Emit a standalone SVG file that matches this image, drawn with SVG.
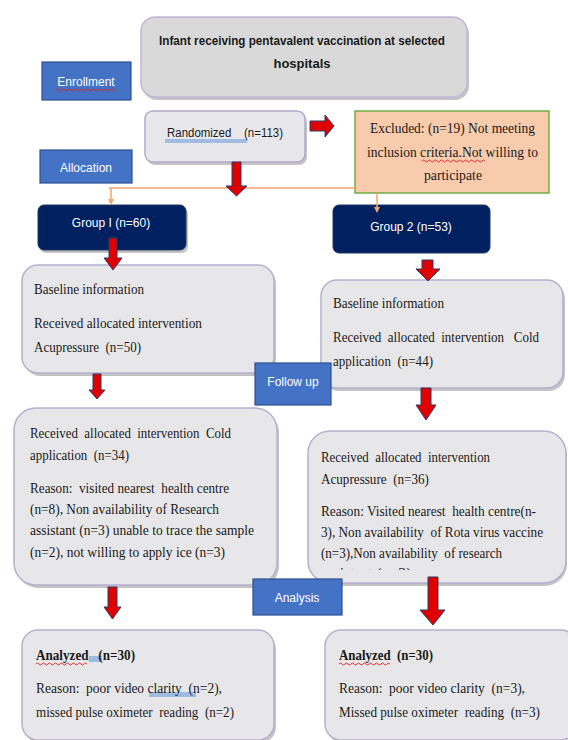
<svg xmlns="http://www.w3.org/2000/svg" width="568" height="740" viewBox="0 0 568 740">
<style>
.cal{font-family:"Liberation Sans","DejaVu Sans",sans-serif;}
.tms{font-family:"Liberation Serif","DejaVu Serif",serif;font-size:14.5px;fill:#1a1a1a;}
.lbl{fill:#4472c4;stroke:#2f4f8f;stroke-width:1.2;}
.lblt{font-family:"Liberation Sans","DejaVu Sans",sans-serif;font-size:12px;fill:#ffffff;text-anchor:middle;}
.grp{fill:#002060;stroke:#1f3864;stroke-width:1;}
.grpt{font-family:"Liberation Sans","DejaVu Sans",sans-serif;font-size:12px;fill:#ffffff;text-anchor:middle;}
.box{fill:#e7e7e9;stroke:#b8aed0;stroke-width:1.5;}
.shd{fill:#c4c4c4;}
.arr{fill:#e00000;stroke:#2a3a6a;stroke-width:1;}
.org{stroke:#f4a46a;stroke-width:1.5;fill:none;}
.sq{stroke:#e02020;stroke-width:0.9;fill:none;}
.hl{fill:#8fb0e0;opacity:0.8;}
</style>
<defs>
<clipPath id="cr"><rect x="308" y="432" width="260" height="138"/></clipPath>
</defs>

<g id="enrollment-label">
<rect class="lbl" x="42" y="62" width="89" height="38"/>
<text class="lblt" x="86" y="86">Enrollment</text>
<path class="sq" d="M56,90 q1.5,-2 3,0 t3,0 t3,0 t3,0 t3,0 t3,0 t3,0 t3,0 t3,0 t3,0 t3,0 t3,0 t3,0 t3,0 t3,0 t3,0 t3,0 t3,0 t3,0 t3,0"/>
</g>

<g id="infant">
<rect class="shd" x="143" y="20" width="326" height="80" rx="14"/>
<rect x="141" y="17" width="326" height="80" rx="14" fill="#d9d9d9" stroke="#c2b8d8" stroke-width="1.5"/>
<text class="cal" x="159" y="45" font-size="13" font-weight="bold" fill="#1a1a1a" textLength="286" lengthAdjust="spacingAndGlyphs">Infant receiving pentavalent vaccination at selected</text>
<text class="cal" x="302" y="68" font-size="13" font-weight="bold" fill="#1a1a1a" text-anchor="middle">hospitals</text>
</g>

<g id="randomized">
<rect class="shd" x="147" y="114" width="160" height="51" rx="8"/>
<rect x="145" y="111" width="160" height="51" rx="8" fill="#e8e8ec" stroke="#b4a8cc" stroke-width="1.5"/>
<rect class="hl" x="165" y="139" width="82" height="4"/>
<text class="cal" x="167" y="137" font-size="12.5" fill="#1a1a1a" textLength="116" lengthAdjust="spacingAndGlyphs" xml:space="preserve">Randomized    (n=113)</text>
</g>

<g id="excluded">
<rect x="355" y="111" width="194" height="82" fill="#f8cbad" stroke="#70ad47" stroke-width="1.5"/>
<text class="tms" x="370" y="133" textLength="165" lengthAdjust="spacingAndGlyphs">Excluded: (n=19) Not meeting</text>
<text class="tms" x="367" y="157" textLength="171" lengthAdjust="spacingAndGlyphs">inclusion criteria.Not willing to</text>
<text class="tms" x="453" y="180" text-anchor="middle" textLength="58" lengthAdjust="spacingAndGlyphs">participate</text>
<path class="sq" d="M422,161 q1.5,-2 3,0 t3,0 t3,0 t3,0 t3,0 t3,0 t3,0 t3,0 t3,0 t3,0 t3,0 t3,0 t3,0 t3,0 t3,0 t3,0 t3,0 t3,0 t3,0 t3,0 t3,0"/>
</g>

<g id="allocation-label">
<rect class="lbl" x="40" y="150" width="92" height="33"/>
<text class="lblt" x="86" y="172">Allocation</text>
</g>

<g id="group1">
<rect class="shd" x="40" y="208" width="148" height="45" rx="6"/>
<rect class="grp" x="38" y="205" width="148" height="45" rx="6"/>
<text class="grpt" x="111" y="227">Group I (n=60)</text>
</g>

<g id="group2">
<rect class="grp" x="333" y="205" width="157" height="48" rx="6"/>
<text class="grpt" x="411" y="231">Group 2 (n=53)</text>
</g>

<g id="baseline1">
<rect class="shd" x="24" y="268" width="252" height="108" rx="16"/>
<rect class="box" x="22" y="265" width="252" height="108" rx="16"/>
<text class="tms" x="34" y="294" textLength="110" lengthAdjust="spacingAndGlyphs">Baseline information</text>
<text class="tms" x="34" y="328" textLength="168" lengthAdjust="spacingAndGlyphs">Received  allocated  intervention</text>
<text class="tms" x="34" y="352" textLength="107" lengthAdjust="spacingAndGlyphs" xml:space="preserve">Acupressure  (n=50)</text>
</g>

<g id="baseline2">
<rect class="shd" x="323" y="283" width="242" height="108" rx="16"/>
<rect class="box" x="321" y="280" width="242" height="108" rx="16"/>
<text class="tms" x="333" y="308" textLength="111" lengthAdjust="spacingAndGlyphs">Baseline information</text>
<text class="tms" x="333" y="342" textLength="206" lengthAdjust="spacingAndGlyphs" xml:space="preserve">Received  allocated  intervention   Cold</text>
<text class="tms" x="333" y="366" textLength="100" lengthAdjust="spacingAndGlyphs" xml:space="preserve">application  (n=44)</text>
</g>

<g id="followup-label">
<rect class="lbl" x="255" y="363" width="76" height="42"/>
<text class="lblt" x="293" y="386">Follow up</text>
</g>

<g id="followup1">
<rect class="shd" x="16" y="411" width="263" height="177" rx="22"/>
<rect class="box" x="14" y="408" width="263" height="177" rx="22"/>
<text class="tms" x="30" y="438" textLength="201" lengthAdjust="spacingAndGlyphs" xml:space="preserve">Received  allocated  intervention  Cold</text>
<text class="tms" x="30" y="460" textLength="99" lengthAdjust="spacingAndGlyphs" xml:space="preserve">application  (n=34)</text>
<text class="tms" x="30" y="493" textLength="199" lengthAdjust="spacingAndGlyphs" xml:space="preserve">Reason:  visited nearest  health centre</text>
<text class="tms" x="30" y="514" textLength="189" lengthAdjust="spacingAndGlyphs">(n=8), Non availability of Research</text>
<text class="tms" x="30" y="535" textLength="224" lengthAdjust="spacingAndGlyphs">assistant (n=3) unable to trace the sample</text>
<text class="tms" x="30" y="557" textLength="195" lengthAdjust="spacingAndGlyphs">(n=2), not willing to apply ice (n=3)</text>
</g>

<g id="followup2">
<rect class="shd" x="310" y="434" width="257" height="152" rx="22"/>
<rect class="box" x="308" y="431" width="258" height="152" rx="22"/>
<text class="tms" x="321" y="462" textLength="169" lengthAdjust="spacingAndGlyphs" xml:space="preserve">Received  allocated  intervention</text>
<text class="tms" x="321" y="484" textLength="108" lengthAdjust="spacingAndGlyphs" xml:space="preserve">Acupressure  (n=36)</text>
<text class="tms" x="321" y="516" textLength="215" lengthAdjust="spacingAndGlyphs" xml:space="preserve">Reason: Visited nearest  health centre(n-</text>
<text class="tms" x="321" y="537" textLength="222" lengthAdjust="spacingAndGlyphs" xml:space="preserve">3), Non availability  of Rota virus vaccine</text>
<text class="tms" x="321" y="558" textLength="181" lengthAdjust="spacingAndGlyphs" xml:space="preserve">(n=3),Non availability  of research</text>
<text class="tms" x="321" y="578" clip-path="url(#cr)" textLength="90" lengthAdjust="spacingAndGlyphs">assistant (n=3)</text>
</g>

<g id="analysis-label">
<rect class="lbl" x="253" y="579" width="89" height="36"/>
<text class="lblt" x="297" y="602">Analysis</text>
</g>

<g id="analyzed1">
<rect class="shd" x="24" y="633" width="252" height="110" rx="16"/>
<rect class="box" x="22" y="630" width="252" height="110" rx="16"/>
<rect class="hl" x="89" y="656" width="13" height="6"/>
<text class="tms" x="36" y="660" font-weight="bold" textLength="99" lengthAdjust="spacingAndGlyphs" xml:space="preserve">Analyzed   (n=30)</text>
<path class="sq" d="M36,664 q1.5,-2 3,0 t3,0 t3,0 t3,0 t3,0 t3,0 t3,0 t3,0 t3,0 t3,0 t3,0 t3,0 t3,0 t3,0 t3,0 t3,0 t3,0"/>
<rect class="hl" x="149" y="692" width="47" height="5"/>
<text class="tms" x="36" y="693" textLength="186" lengthAdjust="spacingAndGlyphs" xml:space="preserve">Reason:  poor video clarity  (n=2),</text>
<text class="tms" x="36" y="717" textLength="198" lengthAdjust="spacingAndGlyphs" xml:space="preserve">missed pulse oximeter  reading  (n=2)</text>
</g>

<g id="analyzed2">
<rect class="shd" x="327" y="633" width="243" height="110" rx="16"/>
<rect class="box" x="325" y="630" width="252" height="110" rx="16"/>
<text class="tms" x="339" y="660" font-weight="bold" textLength="94" lengthAdjust="spacingAndGlyphs" xml:space="preserve">Analyzed  (n=30)</text>
<path class="sq" d="M339,664 q1.5,-2 3,0 t3,0 t3,0 t3,0 t3,0 t3,0 t3,0 t3,0 t3,0 t3,0 t3,0 t3,0 t3,0 t3,0 t3,0 t3,0 t3,0"/>
<text class="tms" x="339" y="693" textLength="186" lengthAdjust="spacingAndGlyphs" xml:space="preserve">Reason:  poor video clarity  (n=3),</text>
<text class="tms" x="339" y="717" textLength="201" lengthAdjust="spacingAndGlyphs" xml:space="preserve">Missed pulse oximeter  reading  (n=3)</text>
</g>

<g id="connectors">
<path class="org" d="M109,188 H355"/>
<path class="org" d="M111,188 V200"/>
<path d="M108,199 L111,205 L114,199 Z" fill="#f4a46a"/>
<path class="org" d="M377,193 V208"/>
<path d="M374,207 L377,213 L380,207 Z" fill="#f4a46a"/>
<path class="arr" d="M310,121 H325 V115 L334,126 L325,137 V131 H310 Z"/>
<path class="arr" d="M232,162 H241 V186 H247 L236.5,196 L226,186 H232 Z"/>
<path class="arr" d="M109,238 H117 V258 H122 L113,270 L104,258 H109 Z"/>
<path class="arr" d="M422,260 H433 V269 H440 L428,281 L416,269 H422 Z"/>
<path class="arr" d="M93,374 H101 V390 H105 L97,399 L89,390 H93 Z"/>
<path class="arr" d="M421,388 H431 V405 H436 L426,420 L416,405 H421 Z"/>
<path class="arr" d="M108,587 H117 V607 H121 L112.5,619 L104,607 H108 Z"/>
<path class="arr" d="M428,577 H438 V610 H445 L433,625 L420,610 H428 Z"/>
</g>
</svg>
